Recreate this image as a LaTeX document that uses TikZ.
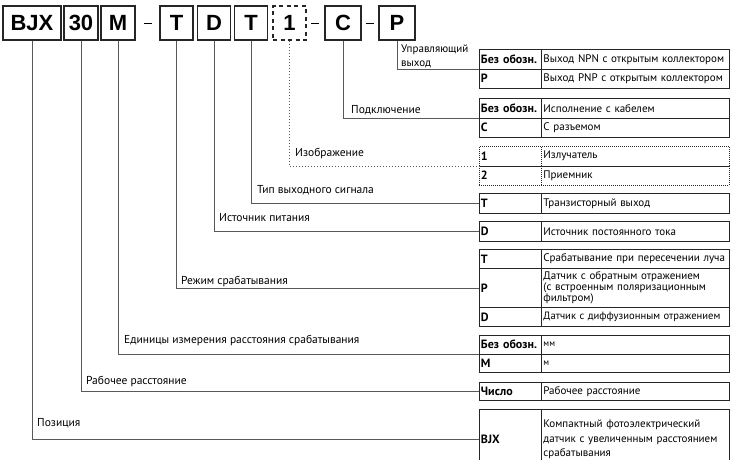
\documentclass[tikz,border=0pt]{standalone}
\usepackage{fontspec}
\setmainfont{PT Sans}
\newfontfamily\boxfont{Liberation Sans}

\begin{document}
\begin{tikzpicture}[x=1pt,y=-1pt,
    code/.style={draw=black!85, line width=1.5pt, font=\boxfont\bfseries\fontsize{22}{22}\selectfont,
      minimum width=33pt, minimum height=34pt, inner sep=0pt},
    conn/.style={draw=black!65, line width=0.8pt},
    lbl/.style={anchor=west, inner sep=0pt, font=\fontsize{11.5}{12}\selectfont},
    key/.style={draw=black!85, line width=0.9pt, anchor=north west, inner xsep=1.5pt, inner ysep=0pt,
      text width=59pt, align=left, font=\bfseries\fontsize{12}{12}\selectfont},
    txt/.style={draw=black!85, line width=0.9pt, anchor=north west, inner xsep=2pt, inner ysep=0pt,
      text width=184pt, align=left, font=\fontsize{11}{12}\selectfont},
    dot/.style={dash pattern=on 1pt off 1pt}]

      \useasboundingbox (0,0) rectangle (731,459);

      % code boxes
      \node[code, minimum width=58pt] (bjx) at (32,23) {BJX};
      \node[code, minimum width=34pt] (n30) at (81,23) {30};
      \node[code, minimum width=34pt] (m) at (118,23) {M};
      \node[code] (t1) at (176.5,23) {T};
      \node[code] (d) at (214,23) {D};
      \node[code] (t2) at (251,23) {T};
      \node[code, dash pattern=on 4pt off 3.5pt] (one) at (289.5,23) {1};
      \node[code, minimum width=36pt] (c) at (343,23) {C};
      \node[code, minimum width=36pt] (p) at (397,23) {P};
      \draw[line width=0.8pt, shorten <=8pt, shorten >=7pt] (m.east) -- (t1.west);
      \draw[line width=0.8pt, shorten <=4pt, shorten >=5pt] (one.east) -- (c.west);
      \draw[line width=0.8pt, shorten <=4pt, shorten >=4pt] (c.east) -- (p.west);

      % output
      \node[key, minimum height=19.5pt] (k1a) at (479,49) {Без обозн.};
      \node[txt, minimum height=19.5pt] (d1a) at (541,49) {Выход NPN с открытым коллектором};
      \node[key, minimum height=19.5pt] (k1b) at (479,68.5) {P};
      \node[txt, minimum height=19.5pt] (d1b) at (541,68.5) {Выход PNP с открытым коллектором};

      % connection
      \node[key, minimum height=19.5pt] (k2a) at (479,98) {Без обозн.};
      \node[txt, minimum height=19.5pt] (d2a) at (541,98) {Исполнение с кабелем};
      \node[key, minimum height=19.5pt] (k2b) at (479,117.5) {C};
      \node[txt, minimum height=19.5pt] (d2b) at (541,117.5) {С разъемом};

      % emitter / receiver
      \node[key, dot, minimum height=19.5pt] (k3a) at (479,146) {1};
      \node[txt, dot, minimum height=19.5pt] (d3a) at (541,146) {Излучатель};
      \node[key, dot, minimum height=19.5pt] (k3b) at (479,165.5) {2};
      \node[txt, dot, minimum height=19.5pt] (d3b) at (541,165.5) {Приемник};

      % output signal, supply
      \node[key, minimum height=20pt] (k4) at (479,193) {T};
      \node[txt, minimum height=20pt] (d4) at (541,193) {Транзисторный выход};
      \node[key, minimum height=20pt] (k5) at (479,221) {D};
      \node[txt, minimum height=20pt] (d5) at (541,221) {Источник постоянного тока};

      % sensing mode
      \node[key, minimum height=19pt] (k6a) at (479,249) {T};
      \node[txt, minimum height=19pt] (d6a) at (541,249) {Срабатывание при пересечении луча};
      \node[key, minimum height=39pt] (k6b) at (479,268) {P};
      \node[txt, minimum height=39pt, font=\fontsize{11}{9.5}\selectfont] (d6b) at (541,268)
        {Датчик с обратным отражением\\(с встроенным поляризационным\\фильтром)};
      \node[key, minimum height=19pt] (k6c) at (479,307) {D};
      \node[txt, minimum height=19pt, font=\fontsize{10.6}{12}\selectfont] (d6c) at (541,307)
        {Датчик с~диффузионным отражением};

      % units, distance, item
      \node[key, minimum height=18.5pt] (k7a) at (479,335) {Без обозн.};
      \node[txt, minimum height=18.5pt, font=\fontsize{9}{10}\selectfont] (d7a) at (541,335) {мм};
      \node[key, minimum height=18.5pt] (k7b) at (479,353.5) {M};
      \node[txt, minimum height=18.5pt, font=\fontsize{9}{10}\selectfont] (d7b) at (541,353.5) {м};
      \node[key, minimum height=18pt] (k8) at (479,382) {Число};
      \node[txt, minimum height=18pt] (d8) at (541,382) {Рабочее расстояние};
      \node[key, minimum height=60pt] (k9) at (479,409) {BJX};
      \node[txt, minimum height=60pt, font=\fontsize{11}{14.5}\selectfont] (d9) at (541,409)
        {Компактный фотоэлектрический\\датчик с увеличенным расстоянием\\срабатывания};

      % leaders
      \draw[conn] (p.south) |- (k1a.south west);
      \draw[conn] (c.south) |- (k2a.south west);
      \draw[conn, dash pattern=on 1.5pt off 1.5pt] (one.south) |- (k3a.south west);
      \draw[conn] (t2.south) |- (k4.west);
      \draw[conn] (d.south) |- (k5.west);
      \draw[conn] (t1.south) |- (k6b.west);
      \draw[conn] (m.south) |- (k7a.south west);
      \draw[conn] (n30.south) |- (k8.west);
      \draw[conn] (bjx.south) |- (k9.west);

      \node[lbl, align=left, font=\fontsize{11}{14}\selectfont] (l1) at (401,56) {Управляющий\\выход};
      \node[lbl] (l2) at (351,110) {Подключение};
      \node[lbl] (l3) at (295,153) {Изображение};
      \node[lbl] (l4) at (257,190) {Тип выходного сигнала};
      \node[lbl] (l5) at (219,218) {Источник питания};
      \node[lbl] (l6) at (181,281) {Режим срабатывания};
      \node[lbl] (l7) at (124,340) {Единицы измерения расстояния срабатывания};
      \node[lbl] (l8) at (86,381) {Рабочее расстояние};
      \node[lbl] (l9) at (37,423) {Позиция};
    \end{tikzpicture}
\end{document}
